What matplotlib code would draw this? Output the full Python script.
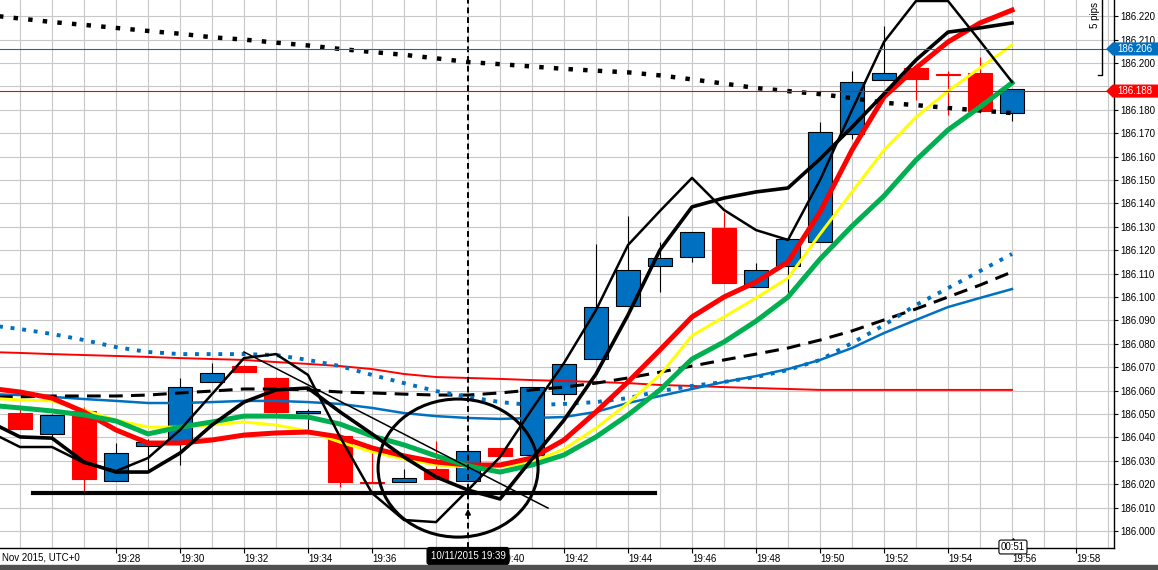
import matplotlib
matplotlib.use("Agg")
import matplotlib.pyplot as plt
import matplotlib.transforms as mtransforms
from matplotlib.patches import Ellipse, Polygon, Rectangle
import numpy as np

plt.rcParams["font.family"] = ["Liberation Sans", "DejaVu Sans"]

# ---- data (minutes past 19:00, prices) ----
minutes = list(range(24, 57))

black_dotted = [186.2205, 186.2190, 186.2175, 186.2163, 186.2150, 186.2137, 186.2125, 186.2110,
                186.2100, 186.2087, 186.2075, 186.2060, 186.2047, 186.2035, 186.2020, 186.2004,
                186.1995, 186.1985, 186.1975, 186.1967, 186.1960, 186.1947, 186.1930, 186.1912,
                186.1893, 186.1880, 186.1867, 186.1850, 186.1830, 186.1820, 186.1808, 186.1797,
                186.1786]
blue_dotted = [186.0880, 186.0863, 186.0842, 186.0816, 186.0786, 186.0765, 186.0756, 186.0756,
               186.0756, 186.0752, 186.0731, 186.0705, 186.0667, 186.0632, 186.0598, 186.0573,
               186.0551, 186.0538, 186.0543, 186.0551, 186.0568, 186.0598, 186.0620, 186.0637,
               186.0658, 186.0688, 186.0731, 186.0803, 186.0880, 186.0966, 186.1038, 186.1111,
               186.1184]
black_dashed = [186.0573, 186.0573, 186.0577, 186.0577, 186.0577, 186.0581, 186.0590, 186.0598,
                186.0607, 186.0607, 186.0603, 186.0594, 186.0590, 186.0585, 186.0581, 186.0581,
                186.0590, 186.0603, 186.0615, 186.0632, 186.0654, 186.0679, 186.0705, 186.0731,
                186.0756, 186.0782, 186.0816, 186.0855, 186.0902, 186.0949, 186.1000, 186.1051,
                186.1107]
blue_solid = [186.0585, 186.0581, 186.0573, 186.0564, 186.0556, 186.0547, 186.0547, 186.0551,
              186.0556, 186.0556, 186.0551, 186.0543, 186.0526, 186.0504, 186.0491, 186.0483,
              186.0479, 186.0483, 186.0487, 186.0509, 186.0547, 186.0577, 186.0607, 186.0637,
              186.0662, 186.0692, 186.0731, 186.0782, 186.0846, 186.0902, 186.0957, 186.0996,
              186.1034]
red_thin = [186.0765, 186.0761, 186.0756, 186.0752, 186.0748, 186.0744, 186.0739, 186.0735,
            186.0731, 186.0722, 186.0714, 186.0705, 186.0692, 186.0671, 186.0658, 186.0654,
            186.0650, 186.0645, 186.0641, 186.0637, 186.0632, 186.0624, 186.0620, 186.0615,
            186.0611, 186.0607, 186.0603, 186.0603, 186.0603, 186.0603, 186.0603, 186.0603,
            186.0603]
yellow = [186.0568, 186.0560, 186.0556, 186.0517, 186.0474, 186.0444, 186.0444, 186.0453,
          186.0466, 186.0453, 186.0427, 186.0380, 186.0338, 186.0308, 186.0282, 186.0274,
          186.0274, 186.0295, 186.0350, 186.0440, 186.0547, 186.0667, 186.0835, 186.0915,
          186.0996, 186.1081, 186.1269, 186.1449, 186.1628, 186.1769, 186.1880, 186.1979,
          186.2077]
red_thick = [186.0611, 186.0594, 186.0568, 186.0509, 186.0432, 186.0376, 186.0376, 186.0389,
             186.0410, 186.0419, 186.0423, 186.0402, 186.0355, 186.0321, 186.0295, 186.0282,
             186.0282, 186.0312, 186.0389, 186.0509, 186.0637, 186.0774, 186.0915, 186.1000,
             186.1064, 186.1150, 186.1363, 186.1628, 186.1855, 186.1979, 186.2090, 186.2171,
             186.2226]
green = [186.0538, 186.0526, 186.0513, 186.0496, 186.0470, 186.0415, 186.0444, 186.0466,
         186.0491, 186.0491, 186.0487, 186.0457, 186.0406, 186.0368, 186.0321, 186.0278,
         186.0252, 186.0282, 186.0325, 186.0402, 186.0496, 186.0603, 186.0735, 186.0808,
         186.0897, 186.1000, 186.1162, 186.1303, 186.1432, 186.1585, 186.1714, 186.1812,
         186.1915]
thick_black = [186.0470, 186.0402, 186.0397, 186.0295, 186.0252, 186.0252, 186.0333, 186.0453,
               186.0551, 186.0603, 186.0611, 186.0509, 186.0415, 186.0316, 186.0231, 186.0175,
               186.0137, 186.0308, 186.0474, 186.0671, 186.0923, 186.1201, 186.1385, 186.1423,
               186.1449, 186.1466, 186.1590, 186.1726, 186.1868, 186.2013, 186.2132, 186.2150,
               186.2171]
thin_black = [186.0427, 186.0359, 186.0359, 186.0291, 186.0256, 186.0312, 186.0432, 186.0585,
              186.0739, 186.0756, 186.0667, 186.0402, 186.0162, 186.0047, 186.0038, 186.0175,
              186.0316, 186.0521, 186.0718, 186.0944, 186.1222, 186.1368, 186.1509, 186.1372,
              186.1286, 186.1244, 186.1500, 186.1799, 186.2090, 186.2265, 186.2265, 186.2094,
              186.1919]

candle_min = list(range(25, 57))
opens = [186.0504, 186.0415, 186.0513, 186.0214, 186.0363, 186.0380, 186.0637, 186.0705,
         186.0654, 186.0505, 186.0406, 186.0209, 186.0209, 186.0265, 186.0214, 186.0355,
         186.0325, 186.0585, 186.0735, 186.0962, 186.1132, 186.1171, 186.1295, 186.1043,
         186.1132, 186.1235, 186.1697, 186.1927, 186.1979, 186.1950, 186.1957, 186.1786]
closes = [186.0436, 186.0496, 186.0222, 186.0333, 186.0380, 186.0615, 186.0675, 186.0679,
          186.0509, 186.0513, 186.0209, 186.0205, 186.0226, 186.0222, 186.0342, 186.0321,
          186.0615, 186.0714, 186.0957, 186.1115, 186.1167, 186.1278, 186.1060, 186.1115,
          186.1248, 186.1705, 186.1919, 186.1957, 186.1932, 186.1948, 186.1795, 186.1889]
highs = [186.0520, 186.0500, 186.0530, 186.0376, 186.0395, 186.0654, 186.0718, 186.0710,
         186.0660, 186.0520, 186.0410, 186.0360, 186.0265, 186.0385, 186.0350, 186.0355,
         186.0615, 186.0714, 186.1226, 186.1346, 186.1235, 186.1278, 186.1363, 186.1145,
         186.1248, 186.1748, 186.1966, 186.2158, 186.1979, 186.1966, 186.2026, 186.1889]
lows = [186.0436, 186.0390, 186.0167, 186.0214, 186.0261, 186.0282, 186.0637, 186.0679,
        186.0500, 186.0432, 186.0188, 186.0205, 186.0209, 186.0222, 186.0214, 186.0321,
        186.0325, 186.0560, 186.0735, 186.0962, 186.1021, 186.1150, 186.1060, 186.1043,
        186.1000, 186.1235, 186.1675, 186.1927, 186.1842, 186.1778, 186.1786, 186.1752]

support_x = [25.4, 44.85]
support_y = [186.0163, 186.0163]
trend_x = [32.0, 41.5]
trend_y = [186.0765, 186.0098]

bid_price = 186.188
ask_price = 186.206
xtick_min = list(range(28, 59, 2))
ytick_vals = [round(186.0 + 0.01 * i, 3) for i in range(23)]

BLUE = "#0070c0"
RED = "#ff0000"

fig = plt.figure(figsize=(11.58, 5.70), dpi=100)
ax = fig.add_axes([0, 22 / 570, 1114 / 1158, 548 / 570])
ax.set_xlim(24.375, 59.1875)
ax.set_ylim(185.99274, 186.22692)

# grid
ax.set_xticks(xtick_min)
ax.set_xticks(range(25, 60), minor=True)
ax.set_xticklabels([f"19:{m:02d}" for m in xtick_min])
ax.set_yticks(ytick_vals)
# the 186.190 label sits under the bid tag, so it is left blank
ax.set_yticklabels(["" if abs(v - 186.19) < 1e-6 else f"{v:.3f}" for v in ytick_vals])
ax.grid(which="both", axis="x", color="#c8c8c8", lw=0.8)
ax.grid(which="major", axis="y", color="#c8c8c8", lw=0.8)
ax.set_axisbelow(True)
ax.yaxis.tick_right()
ax.tick_params(axis="x", which="major", length=3.6, width=0.8, pad=0.8, labelsize=7)
ax.tick_params(axis="x", which="minor", length=0)
ax.tick_params(axis="y", length=3, width=0.8, pad=1.2, labelsize=7)
for lbl in ax.get_xticklabels():
    lbl.set_ha("left")
ax.spines["top"].set_visible(False)
ax.spines["left"].set_visible(False)
ax.spines["right"].set_linewidth(1)
ax.spines["bottom"].set_linewidth(1)

# candles
o = np.array(opens)
c = np.array(closes)
up = c >= o
body_col = np.where(up, BLUE, RED)
edge_col = np.where(up, "black", RED)
ax.vlines(candle_min, lows, highs, colors=edge_col, lw=0.8, zorder=2)
ax.bar(candle_min, np.maximum(np.abs(c - o), 0.0003), width=0.75, bottom=np.minimum(o, c),
       color=body_col, edgecolor=edge_col, linewidth=0.8, zorder=2.1)

# indicators
ax.plot(minutes, red_thin, color=RED, lw=1.4, zorder=3)
ax.plot(minutes, blue_solid, color=BLUE, lw=1.8, zorder=3.1)
ax.plot(minutes, black_dashed, color="black", lw=2.2, ls=(0, (4.5, 2.7)), zorder=3.2)
ax.plot(minutes, blue_dotted, color=BLUE, lw=2.8, ls=(0, (1, 2)), zorder=3.3)
ax.plot(minutes, black_dotted, color="black", lw=3.2, ls=(0, (1, 2.3)), zorder=3.4)
ax.plot(minutes, yellow, color="#ffff00", lw=2.1, zorder=3.5)
ax.plot(minutes, red_thick, color=RED, lw=3.6, zorder=3.6)
ax.plot(minutes, green, color="#00b050", lw=3.6, zorder=3.7)
ax.plot(support_x, support_y, color="black", lw=3, zorder=3.8)
ax.plot(trend_x, trend_y, color="black", lw=1.1, zorder=3.9)
ax.plot(minutes, thick_black, color="black", lw=2.6, zorder=4)
ax.plot(minutes, thin_black, color="black", lw=1.8, zorder=4.1)
ax.add_patch(Ellipse((38.69, 186.0269), 5.0, 0.059, fill=False, ec="black", lw=2.2, zorder=4.2))
ax.axvline(39, color="black", lw=1.4, ls=(0, (3, 2)), zorder=4.3)
ax.annotate("", xy=(39, 186.0107), xytext=(39, 186.0043),
            arrowprops=dict(arrowstyle="-|>", color="black", lw=1.4, mutation_scale=7), zorder=4.4)

ax.axhline(ask_price, color=BLUE, lw=0.8, zorder=4.5)
ax.axhline(bid_price, color=RED, lw=0.8, zorder=4.5)

# price tags on the right scale (x in pixels, y in price)
pix_y = mtransforms.blended_transform_factory(mtransforms.IdentityTransform(), ax.transData)
pix_ax = mtransforms.blended_transform_factory(mtransforms.IdentityTransform(), ax.transAxes)
h = 0.0025
for price, col in [(ask_price, BLUE), (bid_price, RED)]:
    ax.add_patch(Polygon([(1107, price), (1113, price + h), (1160, price + h),
                          (1160, price - h), (1113, price - h)],
                         closed=True, fc=col, ec=col, transform=pix_y, clip_on=False, zorder=10))
    ax.text(1117, price, f"{price:.3f}", color="white", fontsize=7, va="center", ha="left",
            transform=pix_y, clip_on=False, zorder=11)

ax.plot([1098, 1102, 1102], [186.1949, 186.1949, 186.2275], color="black", lw=1,
        transform=pix_y, clip_on=False, zorder=10)
ax.text(1095, 0.973, "5 pips", rotation=90, fontsize=7, ha="center", va="center",
        transform=pix_ax, clip_on=False, zorder=10)

# bottom labels
xa = mtransforms.blended_transform_factory(ax.transData, ax.transAxes)
ax.text(39, -0.0146, "10/11/2015 19:39", color="white", fontsize=7, ha="center", va="center",
        transform=xa, clip_on=False, zorder=12,
        bbox=dict(boxstyle="round,pad=0.35,rounding_size=0.25", fc="black", ec="black"))
ax.plot([56.03], [0.012], marker="^", ms=5, mfc="white", mec="black", mew=0.8,
        transform=xa, clip_on=False, zorder=11)
ax.text(56.03, 0.0018, "00:51", color="black", fontsize=7, ha="center", va="center",
        transform=xa, clip_on=False, zorder=12,
        bbox=dict(boxstyle="round,pad=0.2,rounding_size=0.2", fc="white", ec="black", lw=0.8))
fig.text(2 / 1158, 1 - 557 / 570, "Nov 2015, UTC+0", fontsize=7, ha="left", va="center")

fig.add_artist(Rectangle((0, 0), 1, 5 / 570, transform=fig.transFigure, color="#505050"))

fig.savefig("out.png", dpi=100)
